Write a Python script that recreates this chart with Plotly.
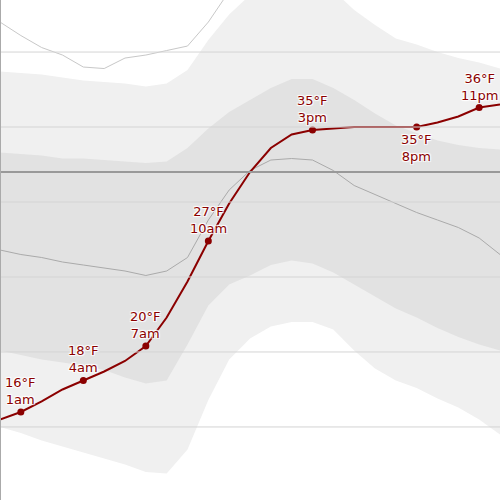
import plotly.graph_objects as go

hours = list(range(25))
hour_names = ["12am", "1am", "2am", "3am", "4am", "5am", "6am", "7am", "8am", "9am", "10am", "11am",
              "12pm", "1pm", "2pm", "3pm", "4pm", "5pm", "6pm", "7pm", "8pm", "9pm", "10pm", "11pm", "12am"]

temp = [15.5, 16.0, 16.7, 17.5, 18.1, 18.7, 19.4, 20.4, 22.3, 24.7, 27.4, 29.9, 32.0,
        33.6, 34.5, 34.8, 34.9, 35.0, 35.0, 35.0, 35.0, 35.3, 35.7, 36.3, 36.5]
avg = [26.8, 26.5, 26.3, 26.0, 25.8, 25.6, 25.4, 25.1, 25.4, 26.3, 28.8, 30.8, 32.1,
       32.8, 32.9, 32.8, 32.1, 31.1, 30.5, 29.9, 29.3, 28.8, 28.3, 27.6, 26.5]
p10 = [15.0, 14.6, 14.1, 13.7, 13.3, 12.9, 12.5, 12.0, 11.9, 13.5, 16.8, 19.5, 20.9,
       21.7, 22.0, 22.0, 21.5, 20.1, 18.9, 18.1, 17.6, 16.9, 16.3, 15.5, 14.5]
p25 = [20.1, 19.8, 19.5, 19.3, 19.1, 18.8, 18.3, 17.9, 18.1, 20.5, 23.1, 24.5, 25.1,
       25.8, 26.1, 25.9, 25.3, 24.5, 23.7, 22.9, 22.3, 21.6, 21.0, 20.5, 20.1]
p75 = [33.3, 33.2, 33.1, 32.9, 32.9, 32.8, 32.7, 32.6, 32.7, 33.6, 34.9, 36.0, 36.8,
       37.6, 38.2, 38.2, 37.6, 36.8, 35.9, 35.1, 34.6, 34.1, 33.8, 33.6, 33.5]
p90 = [38.7, 38.6, 38.5, 38.3, 38.1, 38.0, 37.9, 37.7, 37.9, 38.8, 40.8, 42.5, 43.8,
       44.5, 44.8, 44.8, 44.1, 42.8, 41.8, 40.9, 40.5, 40.0, 39.6, 39.3, 38.9]
record_high = [42.0, 41.1, 40.3, 39.8, 39.0, 38.9, 39.6, 39.8, 40.1, 40.4, 42.0, 44.1, 46.1,
               47, 48, 48, 48, 47, 47, 46, 46, 46, 46, 46, 46]
grid_temps = [15, 20, 25, 30, 35, 40]
label_hours = [1, 4, 7, 10, 15, 20, 23]
below_labels = [20]

RED = "#8b0000"
fig = go.Figure()
fig.add_trace(go.Scatter(x=hours, y=p10, mode="lines", line=dict(width=0), hoverinfo="skip"))
fig.add_trace(go.Scatter(x=hours, y=p90, mode="lines", line=dict(width=0), fill="tonexty",
                         fillcolor="#f0f0f0", hoverinfo="skip"))
fig.add_trace(go.Scatter(x=hours, y=p25, mode="lines", line=dict(width=0), hoverinfo="skip"))
fig.add_trace(go.Scatter(x=hours, y=p75, mode="lines", line=dict(width=0), fill="tonexty",
                         fillcolor="#e2e2e2", hoverinfo="skip"))
for g in grid_temps:
    fig.add_hline(y=g, line=dict(color="#d4d4d4", width=1), layer="above")
fig.add_trace(go.Scatter(x=hours, y=record_high, mode="lines", line=dict(color="#c8c8c8", width=1)))
fig.add_trace(go.Scatter(x=hours, y=avg, mode="lines", line=dict(color="#aaaaaa", width=1)))
fig.add_hline(y=32, line=dict(color="#999999", width=2), layer="above")
fig.add_vline(x=0, line=dict(color="#aaaaaa", width=2), layer="above")
fig.add_trace(go.Scatter(x=hours, y=temp, mode="lines", line=dict(color=RED, width=2)))
fig.add_trace(go.Scatter(x=label_hours, y=[temp[h] for h in label_hours], mode="markers",
                         marker=dict(color=RED, size=7)))

for h in label_hours:
    below = h in below_labels
    fig.add_annotation(x=h, y=temp[h], text=f"{round(temp[h])}°F<br>{hour_names[h]}",
                       showarrow=False, yanchor="top" if below else "bottom",
                       yshift=-3 if below else 3,
                       font=dict(family="DejaVu Sans", size=13, color=RED,
                                 shadow="1px 1px 1px white, -1px -1px 1px white, 1px -1px 1px white, -1px 1px 1px white"))

fig.update_layout(
    width=500, height=500, margin=dict(l=0, r=0, t=0, b=0),
    plot_bgcolor="white", paper_bgcolor="white", showlegend=False,
    xaxis=dict(range=[0, 24], showgrid=False, zeroline=False, showticklabels=False),
    yaxis=dict(range=[10.13, 43.47], showgrid=False, zeroline=False, showticklabels=False),
)
fig.write_html("out.html", config={"displayModeBar": False},
               post_script="document.body.style.margin='0';")
